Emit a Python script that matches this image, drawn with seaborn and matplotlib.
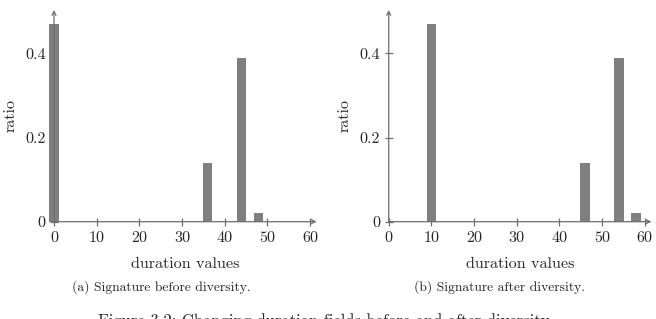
import matplotlib
matplotlib.use("Agg")
import matplotlib.pyplot as plt
import seaborn as sns
import pandas as pd

# ---- data ----
before_durations = [0, 36, 44, 48]
before_ratios = [0.47, 0.14, 0.39, 0.02]
after_durations = [10, 46, 54, 58]
after_ratios = [0.47, 0.14, 0.39, 0.02]
x_ticks = [0, 10, 20, 30, 40, 50, 60]
y_ticks = [0, 0.2, 0.4]
y_tick_labels = ["0", "0.2", "0.4"]
x_label = "duration values"
y_label = "ratio"
sub_captions = ["(a) Signature before diversity.", "(b) Signature after diversity."]
fig_caption = "Figure 3.2: Changing duration fields before and after diversity."

sns.set_theme(style="white")
plt.rcParams["font.family"] = ["cmr10", "DejaVu Serif"]
plt.rcParams["mathtext.fontset"] = "cm"
plt.rcParams["axes.formatter.use_mathtext"] = True
plt.rcParams["axes.unicode_minus"] = False

W, H = 656, 319
fig = plt.figure(figsize=(W / 100, H / 100), dpi=100)

bar_color = "#7f7f7f"
axis_color = "#6e6e6e"
fs = 11.6

panels = [
    (before_durations, before_ratios, 54.0, sub_captions[0], 161.0, 11.0),
    (after_durations, after_ratios, 388.7, sub_captions[1], 500.0, 345.0),
]

x_max = 61.6
y_max = 0.503
px_per_unit = 4.265
y0_px = 221.7
ytop_px = 10.0

for durs, ratios, left_px, cap, cap_x, ylab_x in panels:
    width_px = x_max * px_per_unit
    height_px = y0_px - ytop_px
    ax = fig.add_axes([left_px / W, (H - y0_px) / H, width_px / W, height_px / H])
    df = pd.DataFrame({"duration": durs, "ratio": ratios})
    sns.barplot(data=df, x="duration", y="ratio", native_scale=True, width=0.55,
                color=bar_color, saturation=1, edgecolor="none", linewidth=0,
                ax=ax, errorbar=None)
    for p in ax.patches:
        p.set_clip_on(False)
    ax.set_xlim(0, x_max)
    ax.set_ylim(0, y_max)
    for s in ax.spines.values():
        s.set_visible(False)
    ax.set_xticks(x_ticks)
    ax.set_xticklabels([str(t) for t in x_ticks], fontsize=fs)
    ax.set_yticks(y_ticks)
    ax.set_yticklabels(y_tick_labels, fontsize=fs)
    ax.tick_params(axis="x", direction="inout", length=6, width=0.9,
                   color=axis_color, pad=4, bottom=True)
    ax.tick_params(axis="y", direction="inout", length=6, width=0.9,
                   color=axis_color, pad=3, left=True)
    ax.set_xlabel(x_label, fontsize=fs)
    ax.set_ylabel(y_label, fontsize=fs)
    ax.xaxis.set_label_coords(0.5, -(264 - y0_px) / height_px, transform=ax.transAxes)
    ax.yaxis.set_label_coords((ylab_x - left_px) / width_px, (y0_px - 115) / height_px,
                              transform=ax.transAxes)
    ax.xaxis.label.set_va("center")
    ax.yaxis.label.set_va("center")
    ax.grid(False)
    ax.patch.set_alpha(0)
    # axis lines with arrow tips
    ax.annotate("", xy=(1, 0), xytext=(0, 0), xycoords="axes fraction",
                arrowprops=dict(arrowstyle="->", color=axis_color, lw=0.9,
                                shrinkA=0, shrinkB=0, mutation_scale=7))
    ax.annotate("", xy=(0, 1), xytext=(0, 0), xycoords="axes fraction",
                arrowprops=dict(arrowstyle="->", color=axis_color, lw=0.9,
                                shrinkA=0, shrinkB=0, mutation_scale=7))
    fig.text(cap_x / W, 1 - 287 / H, cap, ha="center", va="center", fontsize=9.8)

fig.text(326.2 / W, (H - 326) / H, fig_caption, ha="center", va="baseline", fontsize=11.9)

fig.savefig("out.png", dpi=100)
